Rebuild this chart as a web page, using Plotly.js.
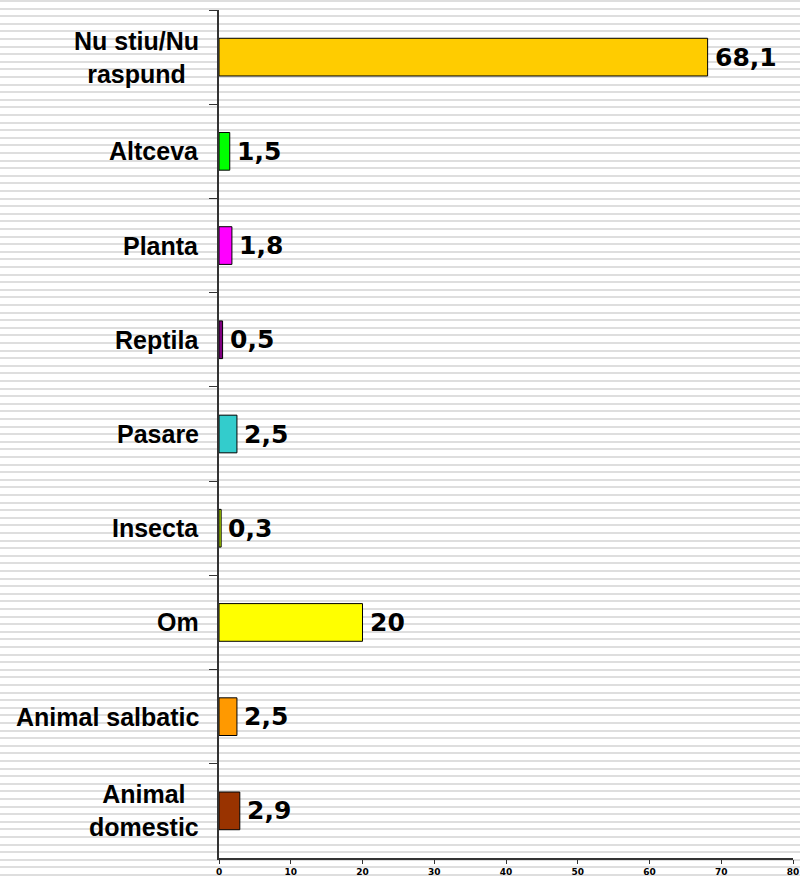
<!DOCTYPE html>
<html>
<head>
<meta charset="utf-8">
<script src="https://cdn.plot.ly/plotly-3.0.1.min.js"></script>
<style>
  html, body { margin: 0; padding: 0; }
  body {
    width: 800px; height: 880px; overflow: hidden;
    background: repeating-linear-gradient(to bottom, #dedede 0px, #dedede 2px, #ffffff 2px, #ffffff 7.6px);
  }
  #chart { width: 800px; height: 880px; }
</style>
</head>
<body>
<div id="chart"></div>
<script>
// Categories, top to bottom
const categories = [
  "Nu stiu/Nu<br>raspund",
  "Altceva",
  "Planta",
  "Reptila",
  "Pasare",
  "Insecta",
  "Om",
  "Animal salbatic",
  "Animal<br>domestic"
];
const values = [68.1, 1.5, 1.8, 0.5, 2.5, 0.3, 20, 2.5, 2.9];
const barColors = ["#FFCC00", "#00FF00", "#FF00FF", "#800080", "#33CCCC", "#CCFF00", "#FFFF00", "#FF9900", "#993300"];
const xTickValues = [0, 10, 20, 30, 40, 50, 60, 70, 80];

const labels = values.map(v => String(v).replace(".", ","));

const trace = {
  type: "bar",
  orientation: "h",
  x: values,
  y: categories,
  width: 0.4,
  marker: { color: barColors, line: { color: "#000000", width: 1 } },
  cliponaxis: false,
  hoverinfo: "none"
};

const catAnnotations = categories.map(c => ({
  xref: "paper", x: 0, xshift: -18, xanchor: "right",
  yref: "y", y: c, yanchor: "middle",
  text: c, align: "center", showarrow: false,
  font: { family: "Liberation Sans", size: 25, color: "#000000", weight: "bold" }
}));

const valAnnotations = values.map((v, i) => ({
  xref: "x", x: v, xshift: 5, xanchor: "left",
  yref: "y", y: categories[i], yanchor: "middle",
  text: labels[i], showarrow: false,
  font: { family: "DejaVu Sans", size: 25, color: "#000000", weight: "bold" }
}));

const layout = {
  width: 800,
  height: 880,
  margin: { l: 219, r: 7, t: 10, b: 22 },
  paper_bgcolor: "rgba(0,0,0,0)",
  plot_bgcolor: "rgba(0,0,0,0)",
  showlegend: false,
  xaxis: {
    range: [0, 80],
    tickvals: xTickValues,
    ticktext: xTickValues.map(String),
    showgrid: false,
    zeroline: false,
    showline: true,
    linecolor: "#333333",
    linewidth: 2,
    ticks: "outside",
    ticklen: 4,
    tickwidth: 1,
    tickcolor: "#333333",
    tickfont: { family: "DejaVu Sans", size: 9, color: "#000000", weight: "bold" },
    fixedrange: true
  },
  yaxis: {
    type: "category",
    autorange: "reversed",
    showgrid: false,
    zeroline: false,
    showline: true,
    linecolor: "#333333",
    linewidth: 2,
    ticks: "outside",
    tickson: "boundaries",
    ticklen: 8,
    tickwidth: 1,
    tickcolor: "#333333",
    showticklabels: false,
    fixedrange: true
  },
  annotations: catAnnotations.concat(valAnnotations)
};

Plotly.newPlot("chart", [trace], layout, { displayModeBar: false, staticPlot: true });
</script>
</body>
</html>
